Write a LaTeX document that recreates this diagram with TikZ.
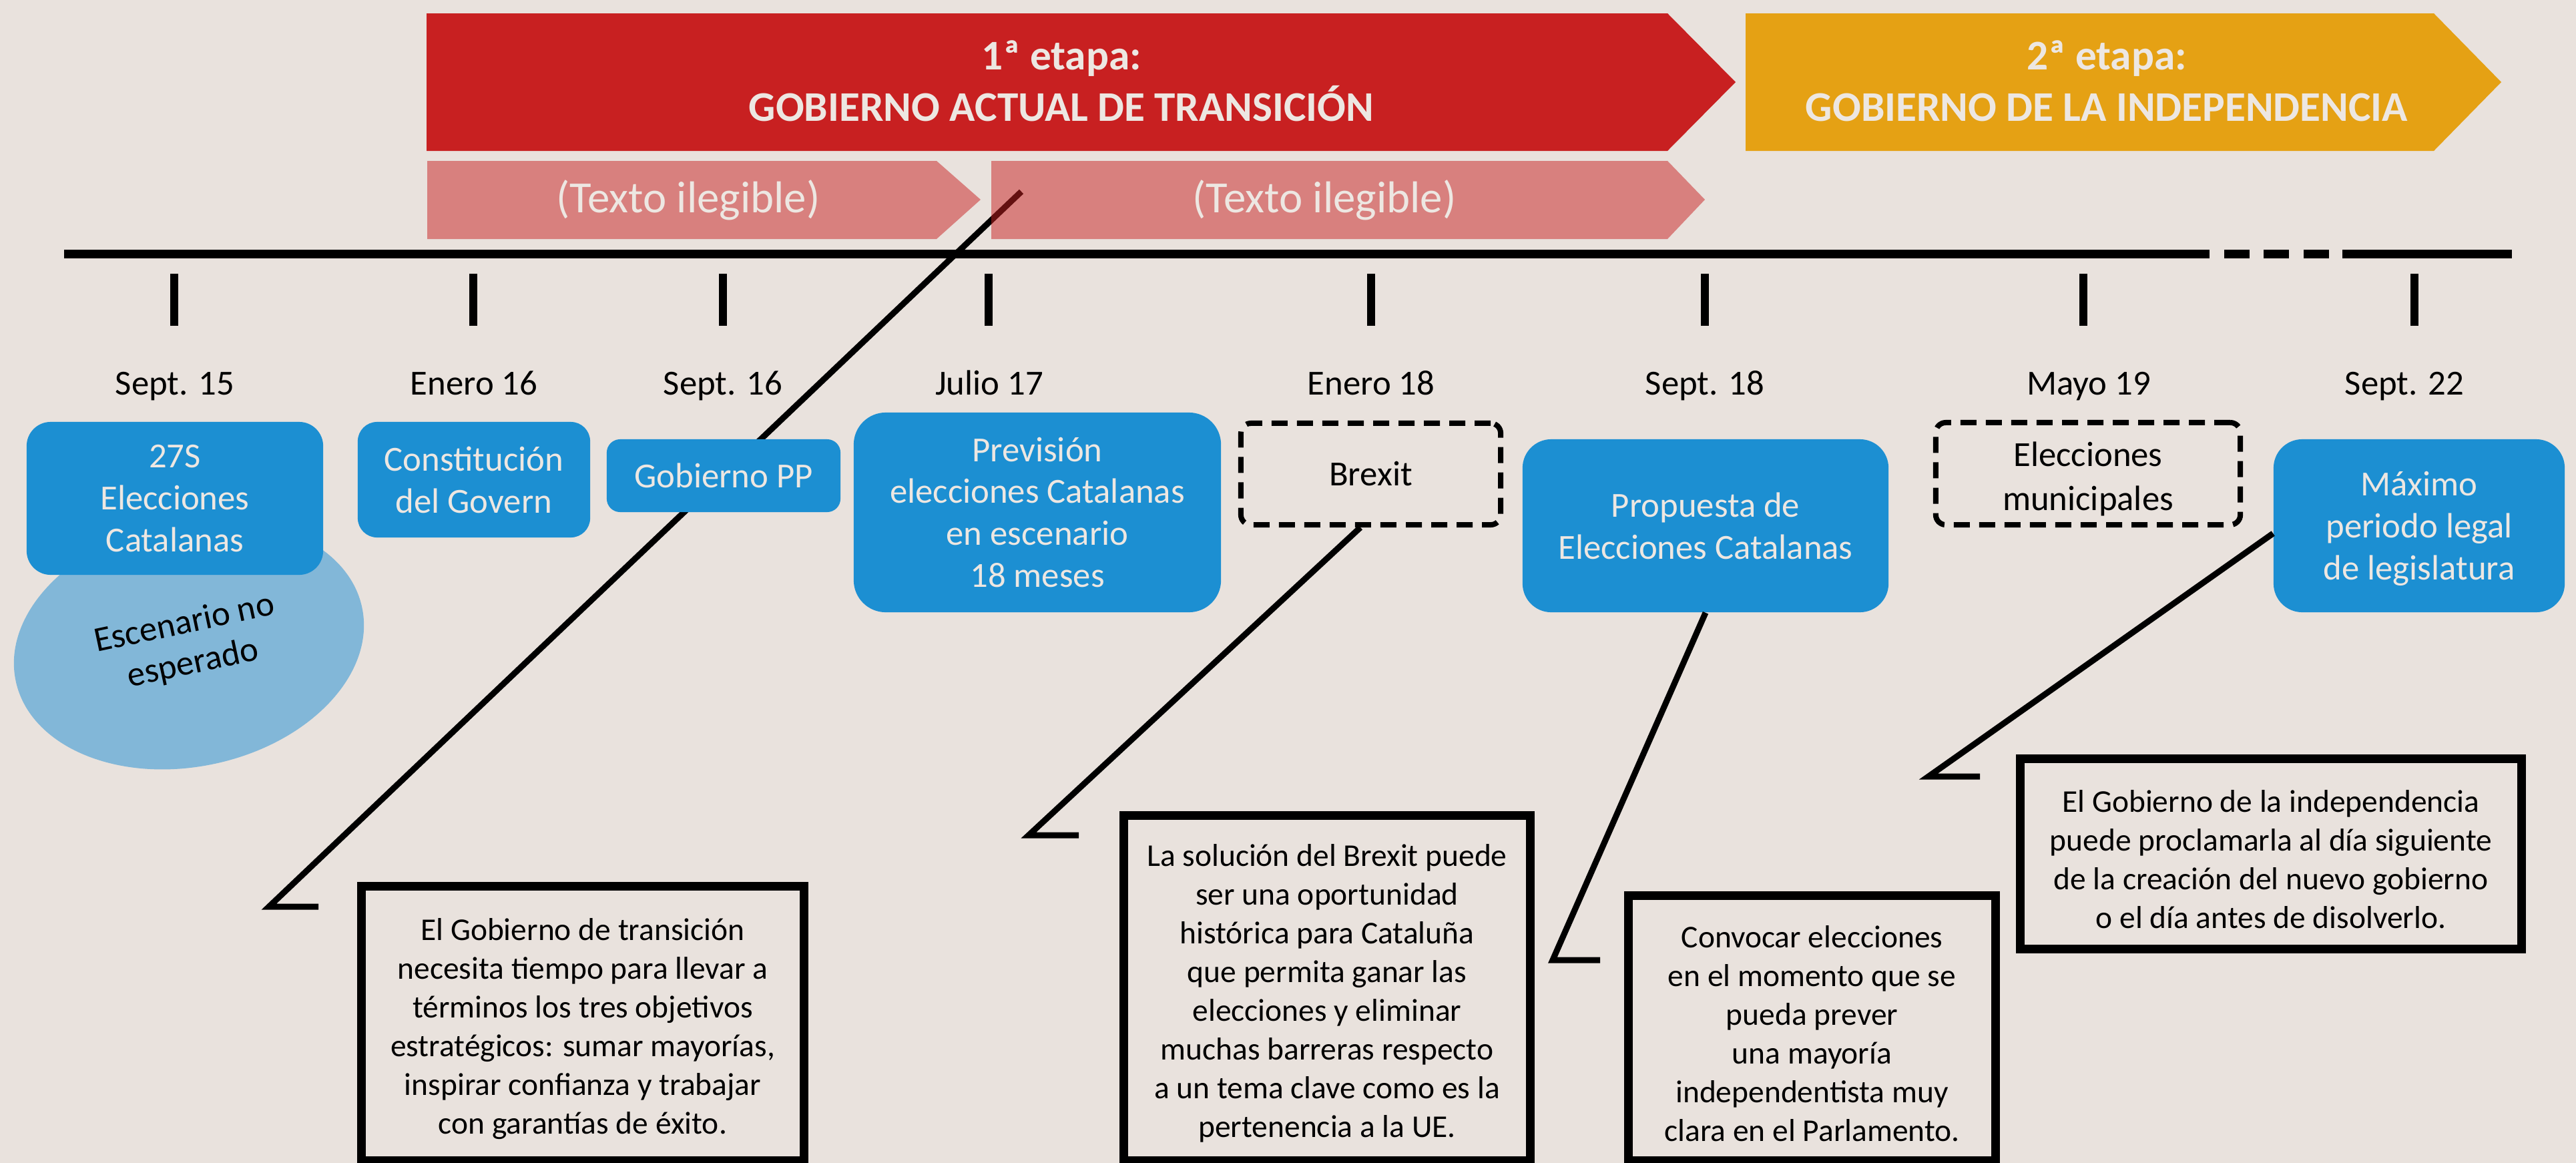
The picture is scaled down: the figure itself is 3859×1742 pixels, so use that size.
\documentclass[tikz,border=0pt]{standalone}
\usepackage{fontspec}
\setmainfont{Carlito}
\usetikzlibrary{shapes.geometric}
\definecolor{bgc}{HTML}{E9E2DD}
\definecolor{redb}{HTML}{C82021}
\definecolor{yellowb}{HTML}{E5A114}
\definecolor{blueb}{HTML}{1C8FD2}
\definecolor{lightblue}{HTML}{82B7D8}
\definecolor{lighttext}{HTML}{EDE7E2}
\newcommand{\lowstrut}{\rule{0pt}{14pt}}
\begin{document}
\begin{tikzpicture}[x=0.01cm,y=-0.01cm,
  bluebox/.style={fill=blueb, text=lighttext, align=center, font=\fontsize{15}{17.9}\selectfont, inner sep=0pt},
  dashbox/.style={draw=black, line width=0.08cm, dash pattern=on 0.24cm off 0.14cm, rounded corners=0.15cm, align=center, font=\fontsize{15}{18.8}\selectfont, inner sep=0pt},
  notebox/.style={draw=black, line width=0.13cm, align=center, font=\fontsize{13.5}{16.5}\selectfont, inner sep=0pt},
  datelabel/.style={font=\fontsize{15}{18}\selectfont, inner sep=0pt, anchor=base},
  banner/.style={text=lighttext, font=\bfseries\fontsize{18}{21.9}\selectfont, align=center, inner sep=0pt},
  pinktext/.style={text=lighttext, font=\fontsize{19}{22}\selectfont, inner sep=0pt},
  callout/.style={draw=black, line width=0.09cm, line join=miter},
  axisline/.style={line width=0.13cm},
  tickmark/.style={line width=0.12cm}
]
\fill[bgc] (0,0) rectangle (3859,1742);
\useasboundingbox (0,0) rectangle (3859,1742);
\clip (0,0) rectangle (3859,1742);

% stage banners
\fill[redb] (639,20) -- (2498,20) -- (2600,123) -- (2498,226) -- (639,226) -- cycle;
\fill[yellowb] (2615,20) -- (3646,20) -- (3747,123) -- (3646,226) -- (2615,226) -- cycle;
\node[banner] (stage1) at (1590,121) {1ª etapa:\\GOBIERNO ACTUAL DE TRANSICIÓN};
\node[banner] (stage2) at (3156,121) {2ª etapa:\\GOBIERNO DE LA INDEPENDENCIA};

% first callout line (under the translucent bars and the boxes)
\coordinate (c1top) at (1530,287);
\coordinate (c1foot) at (403,1358);
\draw[callout] (c1top) -- (c1foot) -- ++(74,0);

% sub bars
\fill[redb, fill opacity=0.5] (640,241) -- (1403,241) -- (1469,299) -- (1403,358) -- (640,358) -- cycle;
\fill[redb, fill opacity=0.5] (1485,241) -- (2498,241) -- (2554,299) -- (2498,358) -- (1485,358) -- cycle;
\node[pinktext] (sub1) at (1031,300) {(Texto ilegible)};
\node[pinktext] (sub2) at (1984,300) {(Texto ilegible)};

% timeline
\draw[axisline] (96,380) -- (3310,380);
\foreach \a/\b in {3332/3370,3391/3429,3451/3489} \draw[axisline] (\a,380) -- (\b,380);
\draw[axisline] (3509,380) -- (3763,380);
\foreach \x in {261,709,1083,1481,2054,2554,3121,3617} \draw[tickmark] (\x,410) -- (\x,488);

% dates
\node[datelabel] (d1) at (262,591) {Sept. 15};
\node[datelabel] (d2) at (710,591) {Enero 16};
\node[datelabel] (d3) at (1083,591) {Sept. 16};
\node[datelabel] (d4) at (1482,591) {Julio 17};
\node[datelabel] (d5) at (2054,591) {Enero 18};
\node[datelabel] (d6) at (2554,591) {Sept. 18};
\node[datelabel] (d7) at (3129,591) {Mayo 19};
\node[datelabel] (d8) at (3602,591) {Sept. 22};

% unexpected scenario
\node[ellipse, fill=lightblue, minimum width=5.3cm, minimum height=3.66cm, rotate=12, inner sep=0pt, align=center, font=\fontsize{15}{17.5}\selectfont] (esc) at (283,965) {Escenario no\\esperado};

% blue boxes
\node[bluebox, minimum width=4.44cm, minimum height=2.29cm, rounded corners=0.36cm] (b27s) at (262,746.5) {27S\\Elecciones\\Catalanas};
\node[bluebox, minimum width=3.48cm, minimum height=1.73cm, rounded corners=0.29cm] (bconst) at (710,718.5) {Constitución\\del Govern};
\node[bluebox, minimum width=3.50cm, minimum height=1.09cm, rounded corners=0.2cm] (bpp) at (1084,712.5) {Gobierno PP};
\node[bluebox, minimum width=5.50cm, minimum height=2.99cm, rounded corners=0.48cm] (bprev) at (1554,767.5) {Previsión\\elecciones Catalanas\\en escenario\\18 meses};
\node[bluebox, minimum width=5.48cm, minimum height=2.59cm, rounded corners=0.43cm] (propuesta) at (2555,787.5) {Propuesta de\\Elecciones Catalanas};
\node[bluebox, minimum width=4.36cm, minimum height=2.59cm, rounded corners=0.43cm] (maximo) at (3624,787.5) {\rule{0pt}{13pt}Máximo\\periodo legal\\de legislatura};

% dashed boxes
\node[dashbox, minimum width=3.89cm, minimum height=1.52cm] (brexit) at (2053.5,710) {Brexit};
\node[dashbox, minimum width=4.56cm, minimum height=1.53cm] (munic) at (3128,709.5) {\rule{0pt}{15pt}Elecciones\\municipales};

% note boxes
\node[notebox, minimum width=6.63cm, minimum height=4.11cm] (n1) at (873,1533) {\lowstrut El Gobierno de transición\\necesita tiempo para llevar a\\términos los tres objetivos\\estratégicos: sumar mayorías,\\inspirar confianza y trabajar\\con garantías de éxito.};
\node[notebox, minimum width=6.09cm, minimum height=5.17cm] (n2) at (1988,1480) {\lowstrut La solución del Brexit puede\\ser una oportunidad\\histórica para Cataluña\\que permita ganar las\\elecciones y eliminar\\muchas barreras respecto\\a un tema clave como es la\\pertenencia a la UE.};
\node[notebox, minimum width=5.50cm, minimum height=3.97cm] (n3) at (2714.5,1540) {\lowstrut Convocar elecciones\\en el momento que se\\pueda prever\\una mayoría\\independentista muy\\clara en el Parlamento.};
\node[notebox, minimum width=7.51cm, minimum height=2.85cm] (n4) at (3402,1279) {\lowstrut El Gobierno de la independencia\\puede proclamarla al día siguiente\\de la creación del nuevo gobierno\\o el día antes de disolverlo.};

% callout lines
\coordinate (c2foot) at (1541,1251);
\coordinate (c3foot) at (2326,1438);
\coordinate (c4foot) at (2889,1163);
\draw[callout] (brexit.-101) -- (c2foot) -- ++(75,0);
\draw[callout] (propuesta.south) -- (c3foot) -- ++(71,0);
\draw[callout] (maximo.183) -- (c4foot) -- ++(77,0);
\end{tikzpicture}
\end{document}
